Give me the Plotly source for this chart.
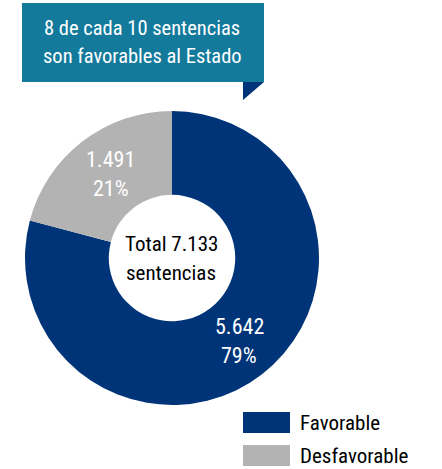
import math
import plotly.graph_objects as go

categories = ["Favorable", "Desfavorable"]
values = [5642, 1491]
colors = ["#003478", "#B3B3B3"]
headline = ["8 de cada 10 sentencias", "son favorables al Estado"]
center_label = ["Total 7.133", "sentencias"]

W, H = 442, 469
FONT = "Roboto Condensed, Liberation Sans Narrow, sans-serif"

def fmt(v):
    return f"{v:,}".replace(",", ".")

total = sum(values)

def px(x):
    return x / W

def py(y):
    return 1 - y / H

CX, CY, R_OUT = 172, 258, 147

fig = go.Figure(go.Pie(
    labels=categories, values=values, sort=False, direction="clockwise", rotation=0,
    hole=0.43, marker=dict(colors=colors, line=dict(width=0)),
    textinfo="none",
    domain=dict(x=[px(CX - R_OUT), px(CX + R_OUT)], y=[py(CY + R_OUT), py(CY - R_OUT)]),
    showlegend=False, hoverinfo="label+value+percent",
))

shapes = [
    dict(type="rect", xref="paper", yref="paper", x0=px(22), x1=px(264), y0=py(82), y1=py(3),
         fillcolor="#137A9C", line=dict(width=0), layer="below"),
    dict(type="path", xref="paper", yref="paper",
         path=f"M {px(243)} {py(82)} L {px(264)} {py(82)} L {px(243)} {py(100)} Z",
         fillcolor=colors[0], line=dict(width=0), layer="below"),
]
annotations = []

def txt(x, y, s, color, size, xanchor="center"):
    annotations.append(dict(x=px(x), y=py(y), xref="paper", yref="paper", text=s,
                            xanchor=xanchor, yanchor="middle", showarrow=False,
                            font=dict(family=FONT, size=size, color=color)))

for i, line in enumerate(headline):
    txt(142, 28 + i * 28, line, "white", 20.5)
for i, line in enumerate(center_label):
    txt(171, 244 + i * 29, line, "black", 21)

# slice labels, positioned at the angular midpoint of each slice (clockwise from 12 o'clock)
cum = 0
for v in values:
    mid = (cum + v / 2) / total * 2 * math.pi
    cum += v
    r = 105
    lx = CX + r * math.sin(mid)
    ly = CY - r * math.cos(mid)
    txt(lx + 3, ly - 15, fmt(v), "white", 22)
    txt(lx + 3, ly + 14, f"{round(100 * v / total)}%", "white", 22)

for i, (cat, col) in enumerate(zip(categories, colors)):
    top = 412 + i * 33
    shapes.append(dict(type="rect", xref="paper", yref="paper", x0=px(243), x1=px(290),
                       y0=py(top + 21), y1=py(top), fillcolor=col, line=dict(width=0)))
    txt(298, top + 10.5, cat, "black", 21, xanchor="left")

fig.update_layout(width=W, height=H, margin=dict(l=0, r=0, t=0, b=0),
                  paper_bgcolor="white", plot_bgcolor="white",
                  shapes=shapes, annotations=annotations)
fig.write_html("out.html", config={"displayModeBar": False},
               post_script="document.body.style.margin='0';")
